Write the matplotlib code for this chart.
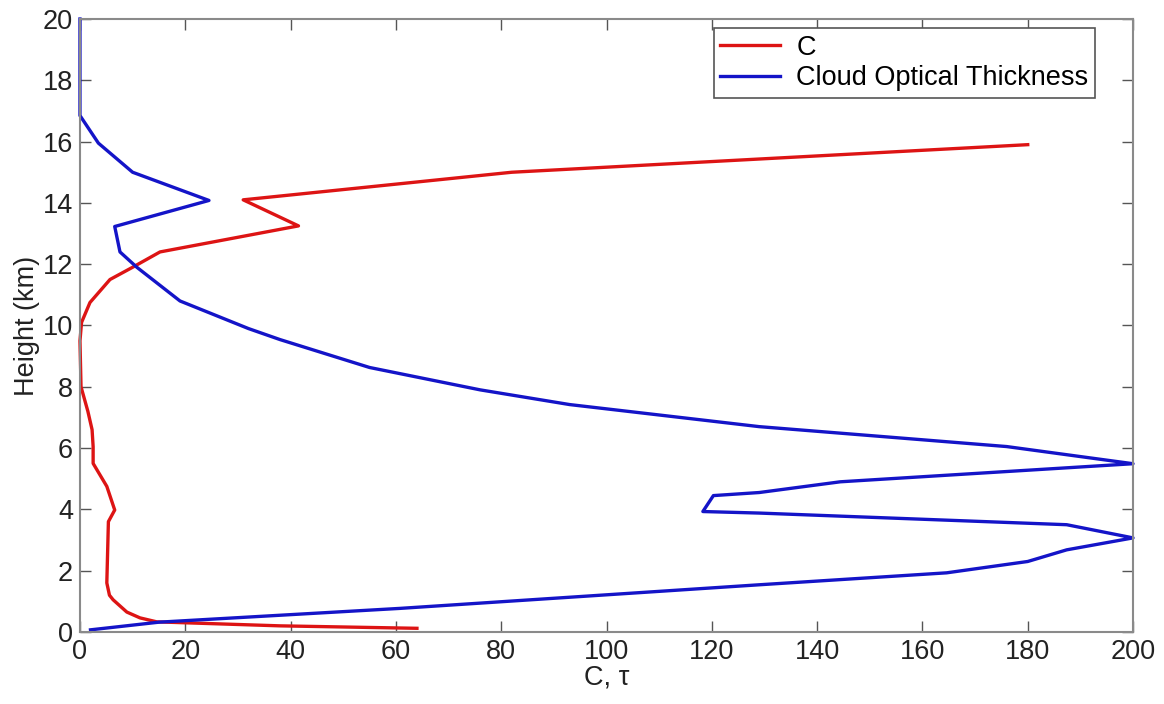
import matplotlib
matplotlib.use("Agg")
import matplotlib.pyplot as plt

# C profile (value, height km), read top to bottom
c_val = [180, 82, 31, 41.5, 15.2, 10, 5.7, 1.9, 0.3, 0.0, 0.2, 1.5, 2.3, 2.5, 2.5,
         5.1, 6.6, 5.4, 5.1, 5.6, 6.3, 8.9, 11.4, 14.6, 38, 64]
c_hgt = [15.9, 15.0, 14.1, 13.25, 12.4, 11.9, 11.5, 10.75, 10.1, 9.5, 8.0, 7.2, 6.6, 6.05, 5.5,
         4.75, 3.98, 3.6, 1.6, 1.2, 1.05, 0.65, 0.46, 0.33, 0.2, 0.12]

# cloud optical thickness profile
tau_val = [0, 0, 3.5, 10, 24.5, 6.6, 7.6, 10.8, 19, 32, 38, 55, 76, 93, 129, 176, 200,
           144.4, 129, 120.3, 118.3, 129, 187.4, 200, 187.4, 180, 164.6, 129, 60.8, 15, 2]
tau_hgt = [20, 16.85, 15.95, 15.0, 14.08, 13.23, 12.4, 11.9, 10.8, 9.9, 9.54, 8.63, 7.9, 7.42,
           6.7, 6.05, 5.49, 4.9, 4.55, 4.45, 3.93, 3.88, 3.5, 3.07, 2.68, 2.3, 1.93, 1.54,
           0.77, 0.32, 0.07]

plt.rcParams["font.family"] = ["Liberation Sans", "DejaVu Sans"]
fs = 19.5

fig = plt.figure(figsize=(11.64, 7.04), dpi=100)
ax = fig.add_axes([0.0687, 0.1023, 0.9047, 0.8707])
ax.plot(c_val, c_hgt, color="#dd1414", lw=2.4, label="C", clip_on=False)
ax.plot(tau_val, tau_hgt, color="#1414c8", lw=2.4, label="Cloud Optical Thickness", clip_on=False)

ax.set_xlim(0, 200)
ax.set_ylim(0, 20)
ax.set_xticks(range(0, 201, 20))
ax.set_yticks(range(0, 21, 2))
ax.tick_params(direction="in", length=8, width=1, color="#555555", labelsize=fs,
               labelcolor="#222222", top=True, right=True, pad=5)
for s in ax.spines.values():
    s.set_color("#8a8a8a")
    s.set_linewidth(1.5)
ax.set_xlabel("C, \u03c4", fontsize=fs, labelpad=0, color="#222222")
ax.set_ylabel("Height (km)", fontsize=fs, labelpad=2, color="#222222")

leg = ax.legend(loc="upper right", bbox_to_anchor=(0.964, 0.985), borderaxespad=0,
                fancybox=False, fontsize=fs, handlelength=2.2, handletextpad=0.6,
                borderpad=0.25, labelspacing=0.15, framealpha=1)
leg.get_frame().set_edgecolor("#555555")
leg.get_frame().set_linewidth(1.2)

fig.savefig("out.png", dpi=100)
